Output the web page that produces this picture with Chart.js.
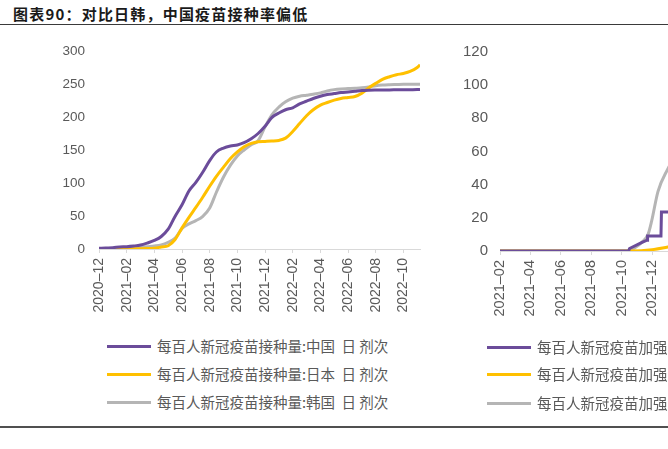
<!DOCTYPE html>
<html>
<head>
<meta charset="utf-8">
<script src="https://cdn.jsdelivr.net/npm/chart.js@4.4.1/dist/chart.umd.min.js"></script>
<style>
  html, body { margin: 0; padding: 0; background: #fff; }
  #page { position: relative; width: 668px; height: 449px; overflow: hidden; background: #fff; }
  #title { position: absolute; left: 13px; top: 4px; font-family: "Noto Sans CJK SC", sans-serif; font-weight: bold; font-size: 15px; letter-spacing: 1.2px; color: #1a1a1a; white-space: pre; line-height: 20px; }
  #topline { position: absolute; left: 0; top: 24px; width: 668px; height: 1px; background: #3a3a3a; }
  #botline { position: absolute; left: 0; top: 426px; width: 668px; height: 2px; background: #505050; }
  .chartbox { position: absolute; top: 0; width: 440px; height: 330px; }
  .legend { position: absolute; font-family: "Noto Sans CJK SC", sans-serif; font-size: 14.5px; color: #595959; white-space: pre; }
  .legend .row { position: absolute; left: 0; height: 20px; line-height: 20px; display: flex; align-items: center; white-space: pre; }
  .legend .sw { display: inline-block; width: 44px; height: 3px; margin-right: 6px; flex: none; }
</style>
</head>
<body>
<div id="page">
  <div id="title">图表90：对比日韩，中国疫苗接种率偏低</div>
  <div id="topline"></div>
  <div class="chartbox" style="left:0px"><canvas id="c1"></canvas></div>
  <div class="chartbox" style="left:401px"><canvas id="c2"></canvas></div>
  <div class="legend" id="leg1" style="left:107px; top:0px;"></div>
  <div class="legend" id="leg2" style="left:487px; top:0px;"></div>
  <div id="botline"></div>
</div>
<script>
// ---------- Left chart: doses per hundred ----------
const leftStart = '2020-12-01';
const leftEnd = '2022-11-07';
const leftDates = [
  '2020-12-01','2020-12-16','2021-01-01','2021-01-16','2021-02-01','2021-02-15','2021-03-01','2021-03-16',
  '2021-04-01','2021-04-16','2021-05-01','2021-05-16','2021-06-01','2021-06-16','2021-07-01','2021-07-16',
  '2021-08-01','2021-08-16','2021-09-01','2021-09-16','2021-10-01','2021-10-16','2021-11-01','2021-11-16',
  '2021-12-01','2021-12-16','2022-01-01','2022-01-16','2022-02-01','2022-02-15','2022-03-01','2022-03-16',
  '2022-04-01','2022-04-16','2022-05-01','2022-05-16','2022-06-01','2022-06-16','2022-07-01','2022-07-16',
  '2022-08-01','2022-08-16','2022-09-01','2022-09-16','2022-10-01','2022-10-16','2022-11-01','2022-11-07'
];
const chinaDoses = [
  1,1.5,2,3,3.5,4.5,6,9,
  13,19,30,49,67,88,101,116,
  134,147,153,156,157.5,161,167,175,
  186,199,206,211,214,220,224,228,
  231.5,234,235.5,237,238,239,240,240.5,
  240.8,241,241,241.2,241.3,241.4,241.5,241.6
];
const japanDoses = [
  0,0,0,0,0,0.2,0.4,0.7,
  1.2,3,5,14,32,48,63,78,
  95,110,124,137,147,155,160,162.5,
  163,163.5,164.5,168,178,190,202,211,
  218,222,225.5,228,229.5,231,236,244,
  251,257,261,264,266,269,275,279
];
const koreaDoses = [
  0,0,0.3,0.5,0.8,1.5,2.5,3.5,
  4.5,6,10,16,31,38,43,49,
  62,86,109,127,141,150,158,164,
  185,203,215,223,228.5,231.5,233,234.5,
  236.5,239.5,241.5,242.5,243,243.5,244.2,245.5,
  247.5,248.5,249,249.3,249.6,249.7,249.8,249.8
];
const leftNames = ['每百人新冠疫苗接种量:中国  日 剂次','每百人新冠疫苗接种量:日本  日 剂次','每百人新冠疫苗接种量:韩国  日 剂次'];
const leftYTicks = [0, 50, 100, 150, 200, 250, 300];

// ---------- Right chart: booster doses per hundred ----------
const rightStart = '2021-02-01';
const rightEnd = '2022-11-04';
const chinaBoosterDates = ['2021-02-01','2021-10-15','2021-10-17','2021-11-10','2021-11-21','2021-11-22','2021-12-19','2021-12-20','2022-01-10'];
const chinaBooster      = [0, 0, 1.5, 5, 6.5, 9, 9, 23.5, 23.5];
const japanBoosterDates = ['2021-02-01','2021-10-20','2021-12-01','2022-01-02','2022-01-10'];
const japanBooster      = [0, 0, 0.8, 2.4, 2.8];
const koreaBoosterDates = ['2021-02-01','2021-10-13','2021-10-28','2021-11-10','2021-11-23','2021-11-30','2021-12-13','2022-01-02','2022-01-10'];
const koreaBooster      = [0, 0, 2, 5, 10, 18, 36, 49.5, 54];
const rightNames = ['每百人新冠疫苗加强针接种量:中国  日 剂次','每百人新冠疫苗加强针接种量:日本  日 剂次','每百人新冠疫苗加强针接种量:韩国  日 剂次'];
const rightYTicks = [0, 20, 40, 60, 80, 100, 120];

const colors = ['#6B4C9A', '#FFC000', '#B5B5B5'];

function parseD(s) { const p = s.split('-').map(Number); return { y: p[0], m: p[1], d: p[2] }; }
function monthsSince(s, base) {
  const a = parseD(s), b = parseD(base);
  const dim = new Date(a.y, a.m, 0).getDate();
  return (a.y - b.y) * 12 + (a.m - b.m) + (a.d - 1) / dim;
}
function monthLabel(v, base) {
  const b = parseD(base);
  const total = b.y * 12 + (b.m - 1) + Math.round(v);
  const y = Math.floor(total / 12), m = total % 12 + 1;
  return y + '–' + String(m).padStart(2, '0');
}
function pts(dates, vals, base) { return dates.map((d, i) => ({ x: monthsSince(d, base), y: vals[i] })); }

Chart.defaults.font.family = '"Liberation Sans", Arial, sans-serif';
Chart.defaults.color = '#595959';

function makeChart(id, base, end, datasets, yTicks, yPad, yFont, xFont, padTop, xHeight) {
  const yMax = yTicks[yTicks.length - 1];
  return new Chart(document.getElementById(id), {
    type: 'line',
    data: { datasets },
    options: {
      responsive: true,
      maintainAspectRatio: false,
      animation: false,
      layout: { padding: { top: padTop, right: 20, bottom: 0, left: 0 } },
      plugins: { legend: { display: false }, tooltip: { enabled: false } },
      elements: { point: { radius: 0 } },
      scales: {
        x: {
          type: 'linear',
          min: 0,
          max: monthsSince(end, base),
          afterFit: (s) => { s.height = xHeight; },
          grid: { display: true, drawOnChartArea: false, drawTicks: true, tickLength: 4, color: '#D9D9D9' },
          border: { display: true, color: '#D9D9D9', width: 1 },
          ticks: {
            stepSize: 2, includeBounds: false, autoSkip: false,
            minRotation: 90, maxRotation: 90, padding: 5,
            font: { size: xFont }, color: '#595959',
            callback: (v) => monthLabel(v, base)
          }
        },
        y: {
          min: 0, max: yMax,
          afterFit: (s) => { s.width = 99; },
          afterBuildTicks: (s) => { s.ticks = yTicks.map(v => ({ value: v })); },
          grid: { display: false, drawTicks: false },
          border: { display: false },
          ticks: { padding: yPad, font: { size: yFont }, color: '#595959' }
        }
      }
    }
  });
}

const lineBase = { borderWidth: 3, fill: false, pointRadius: 0, cubicInterpolationMode: 'monotone', tension: 0.4 };

makeChart('c1', leftStart, leftEnd, [
  Object.assign({ label: leftNames[0], data: pts(leftDates, chinaDoses, leftStart), borderColor: colors[0] }, lineBase),
  Object.assign({ label: leftNames[1], data: pts(leftDates, japanDoses, leftStart), borderColor: colors[1] }, lineBase),
  Object.assign({ label: leftNames[2], data: pts(leftDates, koreaDoses, leftStart), borderColor: colors[2] }, lineBase)
], leftYTicks, 14, 13.5, 14, 51, 81);

makeChart('c2', rightStart, rightEnd, [
  Object.assign({}, lineBase, { label: rightNames[0], data: pts(chinaBoosterDates, chinaBooster, rightStart), borderColor: colors[0], tension: 0, cubicInterpolationMode: 'default' }),
  Object.assign({ label: rightNames[1], data: pts(japanBoosterDates, japanBooster, rightStart), borderColor: colors[1] }, lineBase),
  Object.assign({ label: rightNames[2], data: pts(koreaBoosterDates, koreaBooster, rightStart), borderColor: colors[2] }, lineBase)
], rightYTicks, 12, 15, 14.5, 52, 79);

function buildLegend(id, names, tops) {
  const el = document.getElementById(id);
  names.forEach((n, i) => {
    const row = document.createElement('div');
    row.className = 'row';
    row.style.top = tops[i] + 'px';
    const sw = document.createElement('span');
    sw.className = 'sw';
    sw.style.background = colors[i];
    const tx = document.createElement('span');
    tx.textContent = n;
    row.appendChild(sw); row.appendChild(tx);
    el.appendChild(row);
  });
}
buildLegend('leg1', leftNames, [336, 364, 392]);
buildLegend('leg2', rightNames, [337, 364, 393]);
</script>
</body>
</html>
